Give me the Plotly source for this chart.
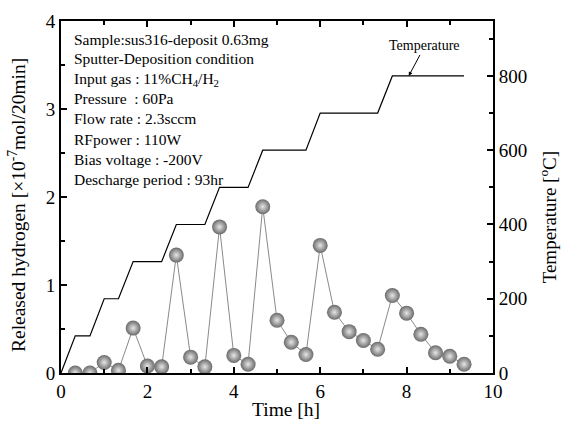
import plotly.graph_objects as go

# released hydrogen per 20 min interval
time_h = [0.33, 0.67, 1.0, 1.33, 1.67, 2.0, 2.33, 2.67, 3.0, 3.33, 3.67, 4.0, 4.33, 4.67,
          5.0, 5.33, 5.67, 6.0, 6.33, 6.67, 7.0, 7.33, 7.67, 8.0, 8.33, 8.67, 9.0, 9.33]
released_h = [0.0, 0.0, 0.12, 0.03, 0.51, 0.08, 0.07, 1.34, 0.18, 0.07, 1.66, 0.2, 0.1, 1.89,
              0.6, 0.35, 0.21, 1.45, 0.69, 0.47, 0.37, 0.27, 0.88, 0.68, 0.44, 0.23, 0.19, 0.1]

# temperature program
temp_time = [0, 0.33, 0.67, 1.0, 1.33, 1.67, 2.33, 2.67, 3.33, 3.67, 4.33, 4.67, 5.67, 6.0, 7.33, 7.67, 9.33]
temp_c = [0, 100, 100, 200, 200, 300, 300, 400, 400, 500, 500, 600, 600, 700, 700, 800, 800]

info_lines = [
    "Sample:sus316-deposit 0.63mg",
    "Sputter-Deposition condition",
    "Input gas : 11%CH<sub>4</sub>/H<sub>2</sub>",
    "Pressure  : 60Pa",
    "Flow rate : 2.3sccm",
    "RFpower : 110W",
    "Bias voltage : -200V",
    "Descharge period : 93hr",
]

font = "Liberation Serif, Times New Roman, serif"

fig = go.Figure()
fig.add_trace(go.Scatter(
    x=temp_time, y=temp_c, yaxis="y2", mode="lines",
    line=dict(color="black", width=1.2), showlegend=False))
fig.add_trace(go.Scatter(
    x=time_h, y=released_h, mode="lines+markers",
    line=dict(color="#8a8a8a", width=1),
    marker=dict(size=15, color="#6a6a6a",
                gradient=dict(type="radial", color="#e6e6e6"),
                line=dict(width=0)),
    showlegend=False))

axis_common = dict(
    showline=True, linecolor="black", linewidth=2,
    ticks="inside", ticklen=6, tickwidth=1.5, tickcolor="black",
    showgrid=False, zeroline=False, automargin=False,
    tickfont=dict(family=font, size=19, color="black"),
)

fig.update_layout(
    width=561, height=421,
    margin=dict(l=61, r=68, t=21, b=48),
    paper_bgcolor="white", plot_bgcolor="white",
    font=dict(family=font, color="black"),
    xaxis=dict(axis_common, range=[0, 10], dtick=2, mirror="ticks",
               minor=dict(dtick=1, ticks="inside", ticklen=4, tickcolor="black")),
    yaxis=dict(axis_common, range=[0, 4], dtick=1,
               minor=dict(dtick=0.5, ticks="inside", ticklen=4, tickcolor="black")),
    yaxis2=dict(axis_common, overlaying="y", side="right", range=[0, 948],
                tick0=0, dtick=200,
                minor=dict(dtick=100, ticks="inside", ticklen=4, tickcolor="black")),
)

for i, line in enumerate(info_lines):
    fig.add_annotation(
        text=line, xref="paper", yref="paper", x=0.025, y=1 - (18 + 20 * i) / 352,
        xanchor="left", yanchor="middle", showarrow=False,
        font=dict(family=font, size=15.5, color="black"))

fig.add_annotation(
    text="Temperature", x=8.05, y=800, xref="x", yref="y2",
    ax=16, ay=-30, showarrow=True, arrowhead=2, arrowsize=0.8, arrowwidth=1,
    arrowcolor="black", font=dict(family=font, size=14, color="black"))

# axis titles
fig.add_annotation(
    text="Time [h]", xref="paper", yref="paper", x=0.52, y=-0.105,
    xanchor="center", yanchor="middle", showarrow=False,
    font=dict(family=font, size=19.5, color="black"))
fig.add_annotation(
    text="Released hydrogen [×10<sup>-7</sup>mol/20min]", xref="paper", yref="paper",
    x=-0.102, y=0.477, textangle=-90, showarrow=False,
    xanchor="center", yanchor="middle",
    font=dict(family=font, size=19.5, color="black"))
fig.add_annotation(
    text="Temperature [<sup>o</sup>C]", xref="paper", yref="paper",
    x=1.128, y=0.443, textangle=-90, showarrow=False,
    xanchor="center", yanchor="middle",
    font=dict(family=font, size=19, color="black"))

# drop the default page margin so the figure sits at the window's corner
fig.write_html("out.html", config={"displayModeBar": False},
               post_script="document.body.style.margin='0';")
